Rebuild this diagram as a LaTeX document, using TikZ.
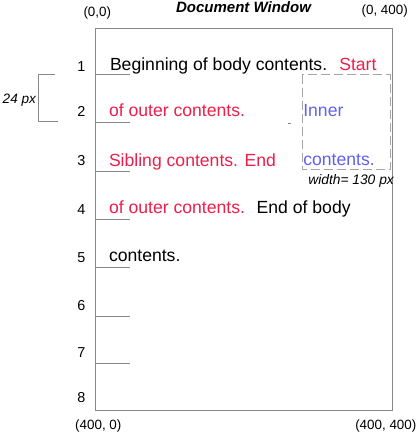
\documentclass[tikz,border=0pt]{standalone}
\usepackage{fontspec}
\setmainfont{Liberation Sans}
\definecolor{txtred}{RGB}{238,30,75}
\definecolor{txtblue}{RGB}{96,96,240}
\definecolor{linegray}{RGB}{136,136,136}
\definecolor{dashgray}{RGB}{165,165,165}
\tikzset{
  txt/.style={anchor=base west,inner sep=0pt,outer sep=0pt,font=\fontsize{17.6bp}{20bp}\selectfont},
  num/.style={anchor=base,inner sep=0pt,outer sep=0pt,font=\fontsize{14.4bp}{16bp}\selectfont},
  coord/.style={anchor=base,inner sep=0pt,outer sep=0pt,font=\fontsize{13.4bp}{15bp}\selectfont},
  note/.style={anchor=base west,inner sep=0pt,outer sep=0pt,font=\fontsize{13.6bp}{15bp}\selectfont\itshape},
  marker/.style={draw=linegray,line width=1bp},
  frame/.style={draw=linegray,line width=1.2bp},
  dashbox/.style={draw=dashgray,line width=1bp,dash pattern=on 9bp off 4bp},
}
\begin{document}
\begin{tikzpicture}[x=1bp,y=-1bp]
\useasboundingbox (0,0) rectangle (417,437);
% window frame
\coordinate (TL) at (95.7,28.7);
\coordinate (BR) at (392.3,410.7);
\draw[frame] (TL) rectangle (BR);
% title and corner labels
\node[anchor=base,inner sep=0pt,font=\fontsize{15bp}{17bp}\selectfont\bfseries\itshape] (title) at (243.5,12.3) {Document Window};
\node[coord] (c00) at (97.3,16.3) {(0,0)};
\node[coord] (c0400) at (384.7,14.5) {(0, 400)};
\node[coord] (c4000) at (98.3,429) {(400, 0)};
\node[coord] (c400400) at (385.8,429) {(400, 400)};
% line markers and numbers
\foreach \i/\y in {1/75,2/123,3/171.5,4/219.3,5/267.3,6/316,7/363.3}{
  \coordinate (ma\i) at (95.7,\y);
  \coordinate (mb\i) at (130.3,\y);
  \draw[marker] (ma\i) -- (mb\i);
}
\foreach \i/\y in {1/71.7,2/117,3/166,4/215,5/262.7,6/310.7,7/357.3,8/402.7}{
  \node[num] (n\i) at (81.3,\y) {\i};
}
% 24 px bracket
\coordinate (b1) at (55,75);
\coordinate (b2) at (38.7,75);
\coordinate (b3) at (38.7,121.3);
\coordinate (b4) at (57.7,121.3);
\draw[marker] (b1) -- (b2) -- (b3) -- (b4);
\node[note] (px24) at (2.7,103.3) {24 px};
% inner dashed box
\coordinate (ib1) at (302.3,74.7);
\coordinate (ib2) at (390.3,169.7);
\draw[dashbox] (ib1) rectangle (ib2);
\node[note,font=\fontsize{13.8bp}{15bp}\selectfont\itshape] (wid) at (308.3,184.3) {width= 130 px};
% tiny mark
\coordinate (tm1) at (288.3,123.3);
\coordinate (tm2) at (290.8,123.3);
\draw[draw=linegray,line width=1bp] (tm1) -- (tm2);
% texts
\node[txt] (t1) at (110,70.7) {Beginning of body contents.};
\node[txt,text=txtred] (t1b) at (339.3,70.7) {Start};
\node[txt,text=txtred] (t2) at (109,116.7) {of outer contents.};
\node[txt,text=txtblue] (t2b) at (303.3,116.3) {Inner};
\node[txt,text=txtred] (t3) at (109,166.3) {Sibling contents. End};
\node[txt,text=txtblue] (t3b) at (303.3,165.7) {contents.};
\node[txt,text=txtred] (t4) at (109,213.5) {of outer contents.};
\node[txt] (t4b) at (256.7,213.5) {End of body};
\node[txt] (t5) at (109,261.7) {contents.};
\end{tikzpicture}
\end{document}
